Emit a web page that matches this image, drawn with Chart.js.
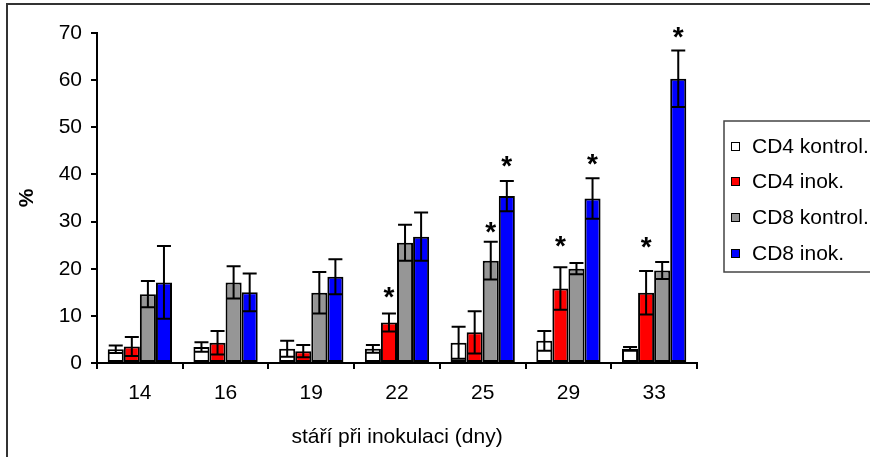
<!DOCTYPE html>
<html lang="cs">
<head>
<meta charset="UTF-8">
<title>CD4 / CD8</title>
<style>
  body { margin: 0; background: #fff; }
  canvas { display: block; }
</style>
<script src="https://cdn.jsdelivr.net/npm/chart.js"></script>
</head>
<body>
<canvas id="graf" width="870" height="457"></canvas>
<script>
// data
const kategorie = ['14', '16', '19', '22', '25', '29', '33'];
const nazvy = ['CD4 kontrol.', 'CD4 inok.', 'CD8 kontrol.', 'CD8 inok.'];
const barvy = ['#ffffff', '#ff0000', '#969696', '#0000ff'];

const cd4Kontrol = [2.9, 3.4, 3.0, 3.0, 4.3, 4.7, 3.0];
const cd4KontrolChyba = [0.8, 1.0, 1.7, 0.8, 3.4, 2.1, 0.4];
const cd4Inok = [3.5, 4.3, 2.5, 8.6, 6.5, 15.8, 14.9];
const cd4InokChyba = [2.0, 2.5, 1.3, 1.9, 4.5, 4.5, 4.6];
const cd8Kontrol = [14.6, 17.1, 14.9, 25.5, 21.7, 20.0, 19.6];
const cd8KontrolChyba = [2.8, 3.4, 4.4, 3.8, 4.0, 1.2, 1.8];
const cd8Inok = [17.1, 15.0, 18.3, 26.8, 35.4, 34.9, 60.3];
const cd8InokChyba = [7.7, 4.0, 3.7, 5.1, 3.2, 4.3, 6.0];

// kde je hvezdicka (vyznamnost), null = neni
const hvezdyCd4Kontrol = [null, null, null, null, null, null, null];
const hvezdyCd4Inok = [null, null, null, 15.1, null, 25.9, 25.6];
const hvezdyCd8Kontrol = [null, null, null, null, 28.9, null, null];
const hvezdyCd8Inok = [null, null, null, null, 42.9, 43.3, 70.2];

const yTicky = [0, 10, 20, 30, 40, 50, 60, 70];

const pismo = 'Arial, "Liberation Sans", sans-serif';

const hodnoty = [cd4Kontrol, cd4Inok, cd8Kontrol, cd8Inok];
const chyby = [cd4KontrolChyba, cd4InokChyba, cd8KontrolChyba, cd8InokChyba];
const hvezdy = [hvezdyCd4Kontrol, hvezdyCd4Inok, hvezdyCd8Kontrol, hvezdyCd8Inok];

const datasety = nazvy.map((nazev, i) => ({
    label: nazev,
    data: hodnoty[i],
    chyby: chyby[i],
    hvezdy: hvezdy[i],
    backgroundColor: barvy[i],
    borderColor: '#000',
    borderWidth: 2,
    borderSkipped: false,
    categoryPercentage: 0.75,
    barPercentage: 1.0
}));

// ramecek kolem grafu a legenda
const ramecekPlugin = {
    id: 'ramecek',
    beforeDraw(chart) {
        const ctx = chart.ctx;
        ctx.save();
        ctx.fillStyle = '#fff';
        ctx.fillRect(0, 0, chart.width, chart.height);
        ctx.strokeStyle = '#333';
        ctx.lineWidth = 2;
        ctx.strokeRect(7, 4, chart.width + 20, chart.height + 20);
        ctx.restore();
    },
    afterDraw(chart) {
        const ctx = chart.ctx;
        ctx.save();
        ctx.strokeStyle = '#444';
        ctx.lineWidth = 1.5;
        ctx.strokeRect(724, 121, 200, 151);
        ctx.font = '21px ' + pismo;
        ctx.textBaseline = 'middle';
        const radky = [146, 181, 217, 253];
        chart.data.datasets.forEach((ds, i) => {
            const y = radky[i];
            ctx.fillStyle = ds.backgroundColor;
            ctx.fillRect(731, y - 4, 8, 8);
            ctx.strokeStyle = '#000';
            ctx.lineWidth = 1;
            ctx.strokeRect(731.5, y - 3.5, 8, 8);
            ctx.fillStyle = '#000';
            ctx.fillText(ds.label, 752, y + 1);
        });
        ctx.restore();
    }
};

// chybove usecky a hvezdicky
const chybyPlugin = {
    id: 'chyby',
    afterDatasetsDraw(chart) {
        const ctx = chart.ctx;
        const y = chart.scales.y;
        ctx.save();
        ctx.strokeStyle = '#000';
        ctx.lineWidth = 2;
        chart.data.datasets.forEach((ds, i) => {
            const meta = chart.getDatasetMeta(i);
            meta.data.forEach((bar, j) => {
                const v = ds.data[j];
                const e = ds.chyby[j];
                const x = bar.x;
                const y1 = y.getPixelForValue(v + e);
                const y2 = y.getPixelForValue(v - e);
                ctx.beginPath();
                ctx.moveTo(x, y1);
                ctx.lineTo(x, y2);
                ctx.moveTo(x - 7, y1);
                ctx.lineTo(x + 7, y1);
                ctx.moveTo(x - 7, y2);
                ctx.lineTo(x + 7, y2);
                ctx.stroke();
                const h = ds.hvezdy[j];
                if (h !== null) {
                    ctx.fillStyle = '#000';
                    ctx.font = 'bold 28px ' + pismo;
                    ctx.textAlign = 'center';
                    ctx.textBaseline = 'alphabetic';
                    ctx.fillText('*', x, y.getPixelForValue(h) + 0.5 * 28);
                }
            });
        });
        ctx.restore();
    }
};

new Chart(document.getElementById('graf'), {
    type: 'bar',
    data: {
        labels: kategorie,
        datasets: datasety
    },
    plugins: [ramecekPlugin, chybyPlugin],
    options: {
        responsive: false,
        animation: false,
        layout: {
            padding: { left: 0, top: 33, right: 173, bottom: 0 }
        },
        plugins: {
            legend: { display: false },
            tooltip: { enabled: false }
        },
        scales: {
            x: {
                afterFit: s => { s.height = 94; },
                grid: {
                    display: true,
                    offset: true,
                    drawOnChartArea: false,
                    drawTicks: true,
                    tickLength: 6,
                    color: '#000',
                    lineWidth: 2
                },
                border: { display: true, color: '#000', width: 2 },
                ticks: {
                    color: '#000',
                    padding: 12,
                    font: { family: pismo, size: 21 }
                },
                title: {
                    display: true,
                    text: 'stáří při inokulaci (dny)',
                    color: '#000',
                    font: { family: pismo, size: 21 },
                    padding: { top: 0, bottom: 7 }
                }
            },
            y: {
                min: 0,
                max: 70,
                afterFit: s => { s.width = 97; },
                afterBuildTicks: s => { s.ticks = yTicky.map(v => ({ value: v })); },
                grid: {
                    display: true,
                    drawOnChartArea: false,
                    drawTicks: true,
                    tickLength: 6,
                    color: '#000',
                    lineWidth: 2
                },
                border: { display: true, color: '#000', width: 2 },
                ticks: {
                    color: '#000',
                    padding: 9,
                    font: { family: pismo, size: 21 }
                },
                title: {
                    display: true,
                    text: '%',
                    color: '#000',
                    font: { family: pismo, size: 21, weight: 'bold' },
                    padding: { top: 15, bottom: 0 }
                }
            }
        }
    }
});
</script>
</body>
</html>
